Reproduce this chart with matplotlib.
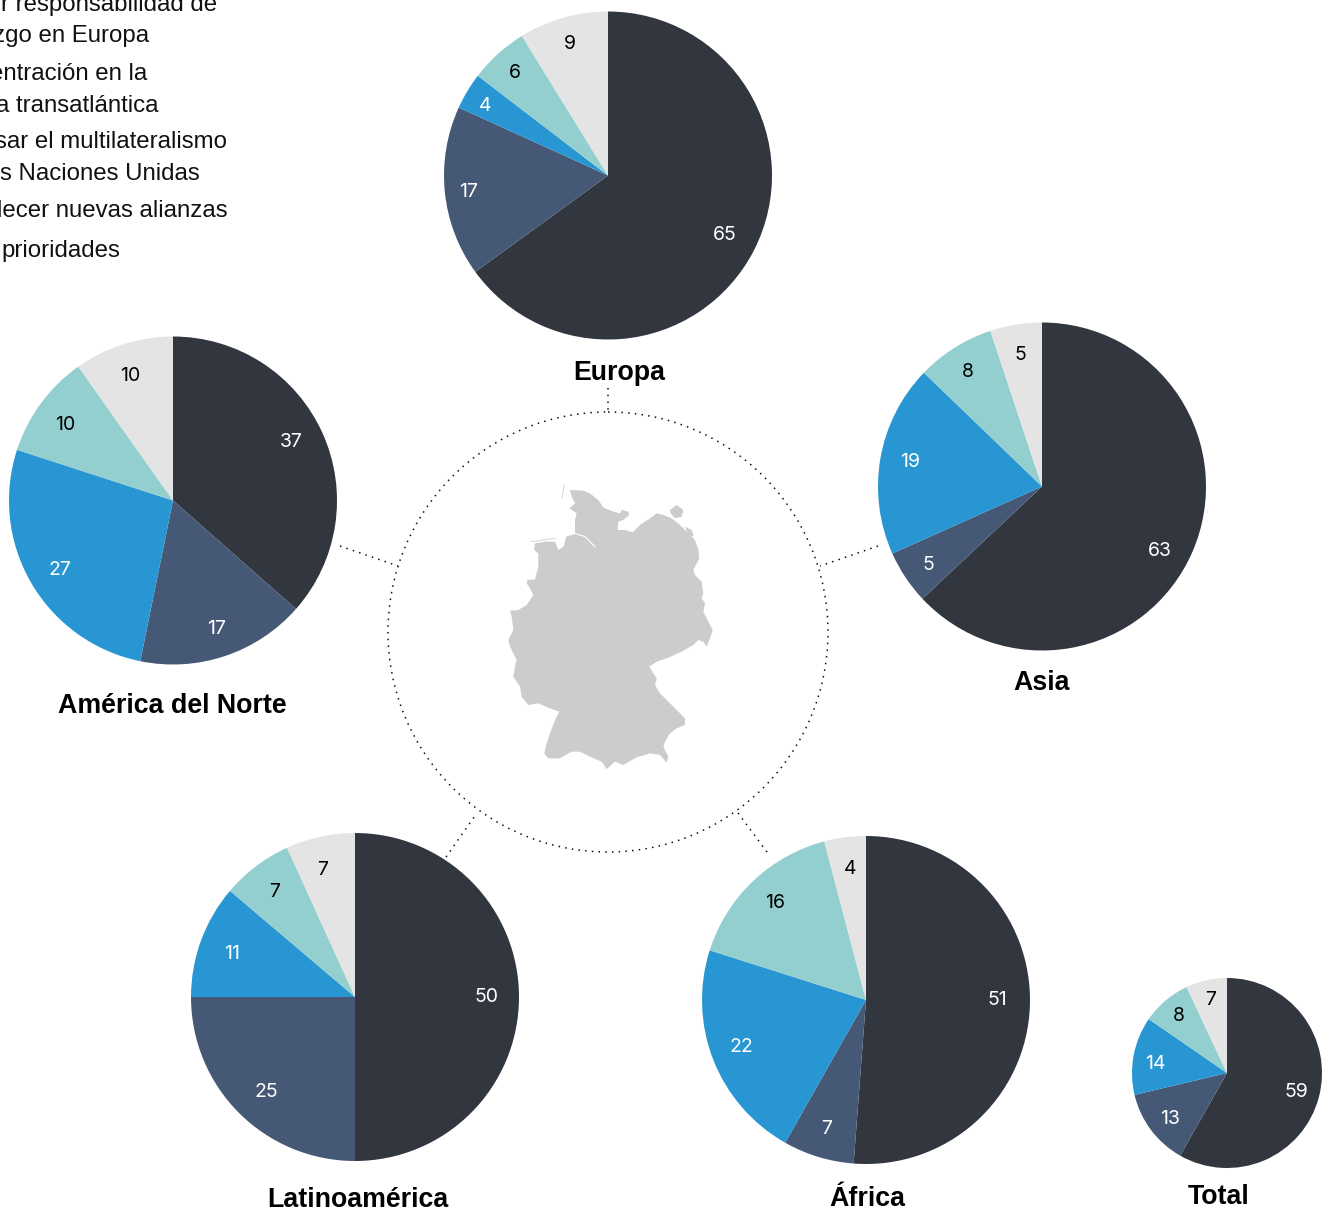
import matplotlib
matplotlib.use("Agg")
import matplotlib.pyplot as plt
from matplotlib.patches import Circle, Polygon

W, H = 1330, 1212
DPI = 100

# ---- data ----
regions = ["Europa", "Asia", "América del Norte", "Latinoamérica", "África", "Total"]
# printed (rounded) labels
europa_labels = [65, 17, 4, 6, 9]
asia_labels = [63, 5, 19, 8, 5]
america_norte_labels = [37, 17, 27, 10, 10]
latinoamerica_labels = [50, 25, 11, 7, 7]
africa_labels = [51, 7, 22, 16, 4]
total_labels = [59, 13, 14, 8, 7]
# shares
europa = [65.0, 16.8, 3.6, 5.8, 8.8]
asia = [63.0, 5.3, 18.9, 7.7, 5.1]
america_norte = [36.5, 16.7, 26.8, 10.2, 9.8]
latinoamerica = [50.0, 25.0, 11.2, 7.0, 6.8]
africa = [51.2, 7.0, 21.7, 16.0, 4.1]
total = [58.2, 13.1, 13.3, 8.4, 7.0]
series = [europa, asia, america_norte, latinoamerica, africa, total]
series_labels = [europa_labels, asia_labels, america_norte_labels, latinoamerica_labels, africa_labels, total_labels]
colors = ["#32363f", "#455976", "#2796d3", "#94cfd0", "#e4e4e4"]
label_colors = ["white", "white", "white", "black", "black"]

legend_lines = ["r responsabilidad de", "zgo en Europa", "entración en la", "a transatlántica",
                "sar el multilateralismo", "s Naciones Unidas", "lecer nuevas alianzas", "prioridades"]

# ---- layout (pixels) ----
pie_centers = [(608, 175.5), (1042, 486.5), (173, 500.5), (355, 997), (866, 1000), (1227, 1073)]
pie_radii = [164, 164, 164, 164, 164, 95]
title_pos = [(619, 373), (1042, 683), (172, 706), (358, 1200), (867, 1199), (1219, 1197)]
label_pos = [
    [(725, 235), (469, 192), (485, 106), (515, 73), (570, 44)],
    [(1160, 551), (928, 565), (910, 462), (968, 372), (1020, 355)],
    [(291, 442), (216, 629), (60, 570), (65, 425), (130, 376)],
    [(486, 997), (266, 1092), (232, 954), (275, 892), (323, 870)],
    [(997, 1000), (827, 1129), (741, 1047), (775, 903), (850, 869)],
    [(1296, 1092), (1170, 1119), (1155, 1064), (1179, 1016), (1211, 1000)],
]
legend_right = [217, 149, 147, 159, 227, 200, 228, 120]
legend_y = [5, 36, 74, 106, 142, 174, 211, 251]
connectors = [((608, 388), (608, 412)), ((878, 546), (820, 566)), ((340, 546), (398, 566)),
              ((446, 857), (477, 813)), ((767, 852), (738, 813))]
ring_center, ring_radius = (608, 632), 220

# Germany silhouette, traced in a 3x crop with origin (490, 470)
germany = [(240,60),(280,62),(300,70),(325,90),(340,112),(370,125),(390,130),(395,120),(415,125),(418,135),
           (400,150),(385,155),(383,180),(405,180),(428,187),(450,165),(480,145),(500,130),(520,135),(545,145),
           (570,165),(595,190),(615,210),(625,240),(628,265),(610,300),(615,315),(635,335),(640,370),(635,385),
           (645,400),(640,425),(655,455),(668,480),(660,505),(650,530),(640,515),(625,510),(610,525),(575,545),
           (530,565),(500,575),(478,590),(490,610),(500,625),(495,645),(510,670),(535,695),(555,715),(585,745),
           (585,765),(560,775),(540,790),(525,815),(520,830),(535,860),(530,878),(510,855),(480,850),(440,862),
           (400,885),(375,875),(350,897),(335,875),(300,860),(270,845),(245,845),(210,865),(175,865),(163,850),
           (170,820),(180,790),(195,750),(208,725),(180,715),(145,700),(115,705),(95,680),(90,650),(70,620),
           (75,590),(80,570),(60,530),(55,510),(70,480),(65,440),(60,422),(85,420),(110,405),(130,375),
           (120,355),(110,340),(112,330),(135,328),(145,290),(145,250),(132,240),(135,220),(165,215),(195,215),
           (205,240),(222,228),(228,200),(255,192),(255,150),(260,130),(238,115),(255,100),(245,80)]
ruegen = [(540,120),(560,105),(580,120),(575,140),(555,145),(542,130)]
usedom = [(585,170),(605,180),(612,200),(595,195)]
north_frisian = [(222,45),(216,85)]
east_frisian = [(125,215),(195,205)]
elbe = [(255,190),(285,200),(315,230)]


def crop(p):
    return [(x / 3 + 490, y / 3 + 470) for x, y in p]


def px_axes(fig, zorder):
    a = fig.add_axes([0, 0, 1, 1], zorder=zorder)
    a.set_xlim(0, W)
    a.set_ylim(H, 0)
    a.axis("off")
    return a


fig = plt.figure(figsize=(W / DPI, H / DPI), dpi=DPI, facecolor="white")
bg = px_axes(fig, 0)
fg = px_axes(fig, 2)

DOT = (0, (1, 3.4))
bg.add_patch(Circle(ring_center, ring_radius, fill=False, ec="#111111", lw=1.1, ls=DOT))
for (a, b) in connectors:
    bg.plot([a[0], b[0]], [a[1], b[1]], color="#111111", lw=1.1, ls=DOT)

for shape in (germany, ruegen, usedom):
    bg.add_patch(Polygon(crop(shape), closed=True, fc="#cccccc", ec="none"))
for line in (north_frisian, east_frisian):
    lx, ly = zip(*crop(line))
    bg.plot(lx, ly, color="#cccccc", lw=0.6)
ex, ey = zip(*crop(elbe))
bg.plot(ex, ey, color="white", lw=0.8)

for x, y, s in zip(legend_right, legend_y, legend_lines):
    bg.text(x, y, s, ha="right", va="center", fontsize=17.3, family="Liberation Sans", color="#111111")

for name, (tx, ty) in zip(regions, title_pos):
    bg.text(tx, ty, name, ha="center", va="center", fontsize=19.3, family="Liberation Sans",
            fontweight="bold", color="black")

for vals, (cx, cy), r in zip(series, pie_centers, pie_radii):
    pad = r * 1.02
    ax = fig.add_axes([(cx - pad) / W, 1 - (cy + pad) / H, 2 * pad / W, 2 * pad / H], zorder=1)
    ax.pie(vals, colors=colors, startangle=90, counterclock=False, normalize=True,
           wedgeprops={"linewidth": 0})
    ax.set_xlim(-1.02, 1.02)
    ax.set_ylim(-1.02, 1.02)
    ax.patch.set_alpha(0)

for labs, poss in zip(series_labels, label_pos):
    for v, (x, y), c in zip(labs, poss, label_colors):
        fg.text(x, y, str(v), ha="center", va="center", color=c, fontsize=14, family="Inter")

fig.savefig("out.png", dpi=DPI, facecolor="white")
